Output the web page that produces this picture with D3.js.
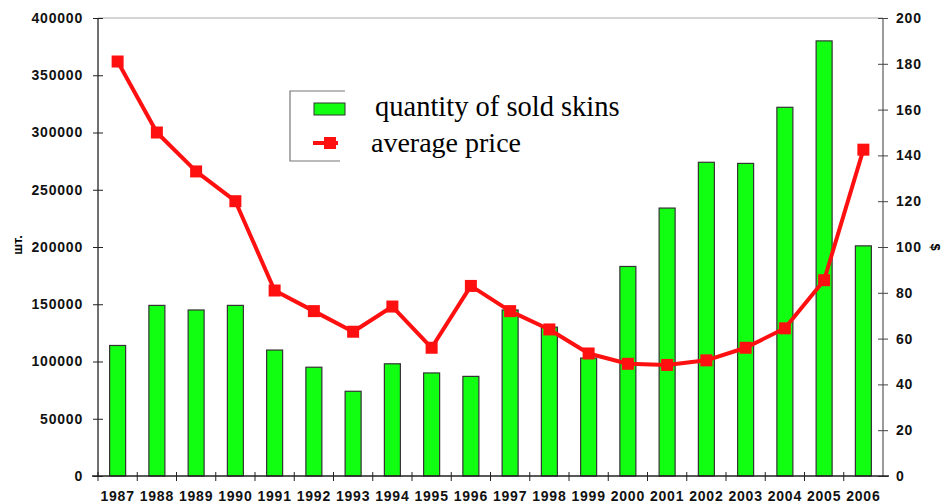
<!DOCTYPE html>
<html>
<head>
<meta charset="utf-8">
<script src="https://cdn.jsdelivr.net/npm/d3@7"></script>
<style>
  body { margin: 0; background: #fff; }
  svg { display: block; }
  .tick text { font-family: "Liberation Sans", Arial, sans-serif; font-weight: bold; font-size: 14px; fill: #111; }
</style>
</head>
<body>
<div id="chart"></div>
<script>
// data
const years = ["1987","1988","1989","1990","1991","1992","1993","1994","1995","1996",
               "1997","1998","1999","2000","2001","2002","2003","2004","2005","2006"];
const skinsSold = [114000,149000,145000,149000,110000,95000,74000,98000,90000,87000,
                   145000,130000,103000,183000,234000,274000,273000,322000,380000,201000];
const avgPrice = [181,150,133,120,81,72,63,74,56,83,
                  72,64,53.5,49,48.5,50.5,56,64.5,85.5,142.5];
const leftTicks = [0,50000,100000,150000,200000,250000,300000,350000,400000];
const rightTicks = [0,20,40,60,80,100,120,140,160,180,200];

const width = 942, height = 504;
const margin = { top: 18, right: 59, bottom: 28, left: 98 };

const svg = d3.select('#chart').append('svg')
  .attr('width', width).attr('height', height);

const x = d3.scaleBand()
  .domain(years)
  .range([margin.left, width - margin.right]);
const yL = d3.scaleLinear([0, 400000], [height - margin.bottom, margin.top]);
const yR = d3.scaleLinear([0, 200], [height - margin.bottom, margin.top]);

// top border
svg.append('line')
  .attr('x1', margin.left).attr('x2', width - margin.right)
  .attr('y1', margin.top).attr('y2', margin.top)
  .attr('stroke', '#aaa');

// bars
const barW = 16;
svg.append('g').selectAll('rect')
  .data(years)
  .join('rect')
  .attr('x', (d) => x(d) + x.bandwidth() / 2 - barW / 2)
  .attr('y', (d, i) => yL(skinsSold[i]))
  .attr('width', barW)
  .attr('height', (d, i) => yL(0) - yL(skinsSold[i]))
  .attr('fill', '#11ff11')
  .attr('stroke', '#333')
  .attr('stroke-width', 1.2);

// left axis
svg.append('g')
  .attr('transform', `translate(${margin.left},0)`)
  .call(d3.axisLeft(yL).tickValues(leftTicks).tickFormat(d3.format('d')).tickSize(5).tickPadding(10))
  .call((g) => g.selectAll('.tick line').attr('x2', 5).attr('x1', -5).attr('stroke', '#222'))
  .call((g) => g.select('.domain').attr('stroke', '#222').attr('stroke-width', 1.3).attr('d', `M0,${yL(0)}V${margin.top}`))
  .call((g) => g.selectAll('.tick text').attr('letter-spacing', '0.8px'));

// right axis
svg.append('g')
  .attr('transform', `translate(${width - margin.right},0)`)
  .call(d3.axisRight(yR).tickValues(rightTicks).tickSize(5).tickPadding(8))
  .call((g) => g.selectAll('.tick line').attr('x1', -5).attr('x2', 5).attr('stroke', '#444'))
  .call((g) => g.select('.domain').attr('stroke', '#666').attr('stroke-width', 1.3).attr('d', `M0,${yR(0)}V${margin.top}`))
  .call((g) => g.selectAll('.tick text').attr('letter-spacing', '0.8px'));

// bottom axis, ticks between categories
const xAxis = svg.append('g').attr('transform', `translate(0,${height - margin.bottom})`);
xAxis.append('line')
  .attr('x1', margin.left - 6).attr('x2', width - margin.right + 6)
  .attr('stroke', '#222').attr('stroke-width', 1.3);
xAxis.selectAll('line.sep')
  .data(years)
  .join('line')
  .attr('class', 'sep')
  .attr('x1', (d) => x(d)).attr('x2', (d) => x(d))
  .attr('y1', -4).attr('y2', 5)
  .attr('stroke', '#222');
xAxis.selectAll('text')
  .data(years)
  .join('text')
  .attr('x', (d) => x(d) + x.bandwidth() / 2)
  .attr('y', 25)
  .attr('text-anchor', 'middle')
  .style('font', 'bold 14px "Liberation Sans", Arial, sans-serif')
  .attr('letter-spacing', '0.8px')
  .attr('fill', '#111')
  .text((d) => d);

// price line
const line = d3.line()
  .x((d, i) => x(years[i]) + x.bandwidth() / 2)
  .y((d) => yR(d));
svg.append('path')
  .datum(avgPrice)
  .attr('d', line)
  .attr('fill', 'none')
  .attr('stroke', '#ff1010')
  .attr('stroke-width', 4)
  .attr('stroke-linejoin', 'round');
const mk = 12;
svg.append('g').selectAll('rect')
  .data(avgPrice)
  .join('rect')
  .attr('x', (d, i) => x(years[i]) + x.bandwidth() / 2 - mk / 2)
  .attr('y', (d) => yR(d) - mk / 2)
  .attr('width', mk).attr('height', mk)
  .attr('fill', '#ff1010');

// axis titles
svg.append('text')
  .attr('transform', 'translate(22,245) rotate(-90)')
  .attr('text-anchor', 'middle')
  .style('font', 'bold 13px "Liberation Sans", Arial, sans-serif')
  .text('шт.');
svg.append('text')
  .attr('transform', 'translate(931,247) rotate(90)')
  .attr('text-anchor', 'middle')
  .style('font', 'bold 13px "Liberation Sans", Arial, sans-serif')
  .text('$');

// legend
const lg = svg.append('g');
lg.append('path')
  .attr('d', 'M345,91H290V161H340')
  .attr('fill', 'none').attr('stroke', '#777').attr('stroke-width', 1.2);
lg.append('rect')
  .attr('x', 314).attr('y', 103).attr('width', 31).attr('height', 12)
  .attr('fill', '#11ff11').attr('stroke', '#333');
lg.append('line')
  .attr('x1', 313).attr('x2', 338).attr('y1', 143).attr('y2', 143)
  .attr('stroke', '#ff1010').attr('stroke-width', 4);
lg.append('rect')
  .attr('x', 324).attr('y', 137).attr('width', 12).attr('height', 12)
  .attr('fill', '#ff1010');
lg.append('text')
  .attr('x', 375).attr('y', 116)
  .style('font', '28.5px "Liberation Serif", "Times New Roman", serif')
  .attr('fill', '#000')
  .text('quantity of sold skins');
lg.append('text')
  .attr('x', 371).attr('y', 152)
  .style('font', '28px "Liberation Serif", "Times New Roman", serif')
  .attr('fill', '#000')
  .text('average price');
</script>
</body>
</html>
